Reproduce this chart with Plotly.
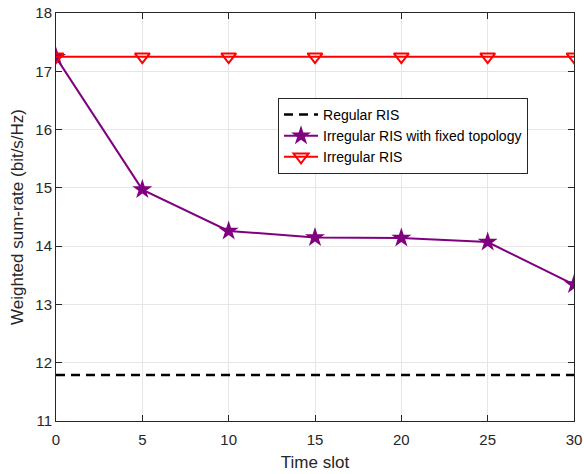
import plotly.graph_objects as go

time_slots = [0, 5, 10, 15, 20, 25, 30]
regular_ris = [11.79] * 7
irregular_fixed = [17.24, 14.97, 14.26, 14.15, 14.14, 14.07, 13.34]
irregular_ris = [17.25] * 7

FONT = "Liberation Sans, Arial"

fig = go.Figure()
fig.add_trace(go.Scatter(
    x=time_slots, y=regular_ris, mode="lines", name="Regular RIS",
    line=dict(color="black", width=2.5, dash="9px,6px")))
fig.add_trace(go.Scatter(
    x=time_slots, y=irregular_fixed, mode="lines+markers",
    name="Irregular RIS with fixed topology",
    line=dict(color="#800080", width=2),
    marker=dict(symbol="star", size=15, color="#800080")))
fig.add_trace(go.Scatter(
    x=time_slots, y=irregular_ris, mode="lines+markers", name="Irregular RIS",
    line=dict(color="red", width=2),
    marker=dict(symbol="triangle-down-open", size=13, color="red",
                line=dict(width=2, color="red"))))

axis_common = dict(
    showline=True, linecolor="#262626", linewidth=1, mirror="ticks",
    ticks="inside", ticklen=6, tickcolor="#262626",
    showgrid=True, gridcolor="#e6e6e6", gridwidth=1, zeroline=False,
    automargin=False, ticklabeloverflow="allow",
    tickfont=dict(family=FONT, size=15, color="#262626"),
)
fig.update_xaxes(range=[0, 30], tickvals=[0, 5, 10, 15, 20, 25, 30],
                 ticklabelstandoff=5,
                 title=dict(text="Time slot", standoff=9,
                            font=dict(family=FONT, size=17, color="#262626")),
                 **axis_common)
fig.update_yaxes(range=[11, 18], tickvals=list(range(11, 19)),
                 title=dict(text="Weighted sum-rate (bit/s/Hz)", standoff=7,
                            font=dict(family=FONT, size=17, color="#262626")),
                 **axis_common)

fig.update_layout(
    width=584, height=474,
    margin=dict(l=56, r=10, t=13, b=53),
    paper_bgcolor="white", plot_bgcolor="white",
    legend=dict(x=0.4286, y=0.792, xanchor="left", yanchor="top",
                bgcolor="white", bordercolor="#262626", borderwidth=1,
                font=dict(family=FONT, size=14, color="black"),
                tracegroupgap=0, itemwidth=34),
    showlegend=True,
)
fig.write_html("out.html", config={"displayModeBar": False},
               post_script="document.body.style.margin='0';document.body.style.overflow='hidden';")
